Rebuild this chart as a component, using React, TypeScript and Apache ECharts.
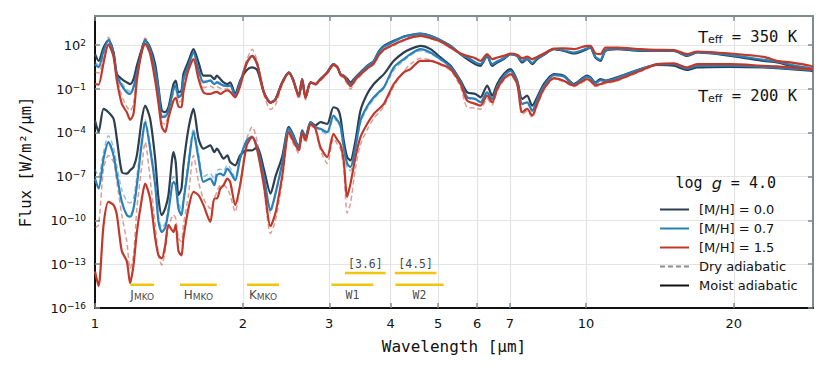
import React, { useEffect, useRef } from "react";
import * as echarts from "echarts";

// Wavelength grid (µm) and log10(flux [W/m²/µm])
const wavelength = [
  1.00, 1.017, 1.041, 1.065, 1.091, 1.108, 1.134, 1.161, 1.179, 1.198,
  1.217, 1.246, 1.265, 1.295, 1.326, 1.347, 1.368, 1.39, 1.411, 1.445,
  1.46, 1.479, 1.50, 1.514, 1.55, 1.587, 1.625, 1.663, 1.717, 1.75,
  1.771, 1.80, 1.827, 1.86, 1.885, 1.93, 1.975, 2.038, 2.09, 2.14,
  2.208, 2.278, 2.331, 2.405, 2.482, 2.53, 2.601, 2.642, 2.684, 2.748,
  2.81, 2.879, 2.971, 3.06, 3.12, 3.162, 3.21, 3.263, 3.314, 3.393,
  3.473, 3.583, 3.697, 3.79, 3.876, 4.061, 4.256, 4.39, 4.60, 4.824,
  5.055, 5.30, 5.553, 5.728, 5.956, 6.097, 6.291, 6.44, 6.594, 6.803,
  7.019, 7.242, 7.413, 7.589, 7.77, 7.953, 8.206, 8.601, 9.015, 9.445,
  10.05, 10.21, 10.45, 10.70, 10.96, 11.57, 12.91, 13.96, 15.1, 16.08,
  16.84, 19.7, 23.02, 24.51, 26.09, 28.66, 29.0,
];

// Teff = 350 K, moist adiabatic
const t350_mh00 = [
  1.39, 0.93, 1.84, 2.34, 1.50, 0.02, -0.32, -0.55, -0.66, -0.32,
  0.60, 1.75, 2.34, 1.84, 0.70, -0.89, -2.48, -2.59, -2.25, -0.66,
  -0.43, -1.23, -1.11, 0.02, 0.90, 1.73, 0.82, -0.09, -0.09, -0.32,
  -0.09, -0.32, -0.55, -0.66, -0.55, -1.34, -0.43, 0.30, 0.48, 0.30,
  -1.23, -1.91, -1.70, -0.55, 0.14, -0.32, -1.46, -0.32, -1.57, -0.55,
  -0.66, -0.32, 0.14, 0.70, 0.48, 0.02, -0.09, -0.30, -0.55, -0.20,
  0.14, 0.59, 0.93, 1.61, 1.95, 2.30, 2.60, 2.70, 2.79, 2.64,
  2.34, 1.95, 1.39, 1.05, 0.70, 0.59, 1.27, 0.59, 0.82, 1.05,
  1.39, 1.27, 0.82, 1.05, 0.70, 1.05, 1.34, 1.73, 1.61, 1.43,
  1.73, 1.84, 1.16, 0.93, 1.61, 1.73, 1.61, 1.61, 1.61, 1.27,
  1.50, 1.27, 0.93, 0.82, 0.59, 0.36, 0.33,
];
const t350_mh07 = [
  0.70, 0.50, 1.60, 2.34, 1.39, -0.10, -0.77, -1.23, -1.34, -0.89,
  0.10, 1.60, 2.34, 1.70, 0.30, -1.10, -2.93, -2.90, -2.50, -1.00,
  -0.77, -1.57, -1.40, -0.30, 0.60, 1.50, 0.30, -0.55, -0.43, -0.66,
  -0.55, -0.66, -0.77, -0.80, -0.77, -1.46, -0.55, 0.80, 1.27, 0.70,
  -1.23, -1.91, -1.70, -0.55, 0.14, -0.32, -1.46, -0.32, -1.57, -0.55,
  -0.66, -0.32, 0.14, 0.70, 0.48, 0.02, -0.09, -0.40, -0.66, -0.25,
  0.10, 0.55, 0.90, 1.55, 1.90, 2.25, 2.58, 2.68, 2.77, 2.62,
  2.32, 1.95, 1.39, 1.16, 0.82, 0.70, 1.27, 0.70, 0.90, 1.10,
  1.39, 1.27, 0.90, 1.08, 0.78, 1.10, 1.36, 1.74, 1.65, 1.50,
  1.78, 1.86, 1.20, 1.00, 1.65, 1.76, 1.64, 1.63, 1.63, 1.30,
  1.52, 1.32, 1.00, 0.88, 0.66, 0.42, 0.40,
];
const t350_mh15 = [
  -0.66, -0.70, 0.80, 2.05, 1.20, -0.43, -2.02, -2.60, -3.11, -2.70,
  -0.43, 1.60, 2.10, 1.40, -0.43, -2.00, -3.61, -3.95, -3.00, -1.80,
  -1.60, -2.20, -2.25, -1.20, 0.30, 1.05, -0.30, -1.23, -1.34, -1.23,
  -1.20, -1.34, -1.20, -1.10, -1.20, -1.57, -0.80, 0.80, 1.27, 0.70,
  -1.23, -1.95, -1.75, -0.60, 0.10, -0.35, -1.50, -0.35, -1.60, -0.55,
  -0.66, -0.35, 0.10, 0.65, 0.45, -0.02, -0.15, -0.50, -0.80, -0.35,
  0.00, 0.40, 0.75, 1.35, 1.70, 2.05, 2.35, 2.52, 2.64, 2.48,
  2.25, 1.84, 1.43, 1.27, 1.11, 0.93, 1.39, 1.05, 1.16, 1.27,
  1.43, 1.35, 1.11, 1.22, 1.05, 1.20, 1.43, 1.77, 1.79, 1.73,
  1.95, 1.95, 1.45, 1.39, 1.84, 1.84, 1.73, 1.68, 1.66, 1.39,
  1.57, 1.43, 1.20, 0.93, 0.82, 0.59, 0.50,
];
// Teff = 350 K, dry adiabatic
const t350_mh07_dry = [
  0.85, 0.65, 1.75, 2.45, 1.50, 0.05, -0.60, -1.05, -1.15, -0.75,
  0.25, 1.70, 2.42, 1.78, 0.40, -1.00, -2.80, -2.78, -2.40, -0.90,
  -0.65, -1.45, -1.30, -0.20, 0.70, 1.58, 0.40, -0.45, -0.35, -0.58,
  -0.48, -0.58, -0.70, -0.72, -0.70, -1.40, -0.50, 0.85, 1.35, 0.72,
  -1.25, -1.98, -1.75, -0.58, 0.12, -0.35, -1.50, -0.35, -1.60, -0.57,
  -0.68, -0.35, 0.12, 0.68, 0.46, 0.00, -0.12, -0.45, -0.72, -0.30,
  0.06, 0.50, 0.86, 1.50, 1.86, 2.22, 2.55, 2.66, 2.76, 2.61,
  2.31, 1.93, 1.37, 1.13, 0.79, 0.67, 1.25, 0.67, 0.87, 1.07,
  1.37, 1.25, 0.87, 1.05, 0.75, 1.07, 1.34, 1.72, 1.63, 1.48,
  1.76, 1.84, 1.18, 0.98, 1.63, 1.74, 1.62, 1.61, 1.61, 1.28,
  1.50, 1.30, 0.98, 0.86, 0.64, 0.40, 0.38,
];
const t350_mh15_dry = [
  0.16, 0.10, 1.30, 2.55, 1.60, 0.00, -1.50, -2.20, -2.50, -2.00,
  0.20, 1.90, 2.50, 1.80, 0.00, -1.70, -3.30, -3.40, -2.70, -1.30,
  -1.00, -1.90, -1.80, -0.60, 0.70, 1.50, 0.00, -0.90, -0.80, -0.95,
  -0.85, -0.95, -1.00, -1.00, -1.05, -1.55, -0.60, 1.00, 1.73, 0.90,
  -1.40, -2.40, -2.10, -0.75, 0.05, -0.45, -1.70, -0.50, -1.75, -0.65,
  -0.75, -0.45, 0.05, 0.60, 0.40, -0.10, -0.25, -0.65, -1.00, -0.45,
  -0.10, 0.35, 0.70, 1.30, 1.65, 2.00, 2.30, 2.48, 2.62, 2.45,
  2.22, 1.80, 1.38, 1.22, 1.05, 0.88, 1.35, 1.00, 1.12, 1.23,
  1.40, 1.32, 1.05, 1.18, 1.00, 1.16, 1.40, 1.75, 1.77, 1.70,
  1.93, 1.93, 1.42, 1.36, 1.82, 1.82, 1.71, 1.66, 1.64, 1.37,
  1.55, 1.41, 1.18, 0.91, 0.80, 0.57, 0.48,
];

// Teff = 200 K, moist adiabatic
const t200_mh00 = [
  -3.16, -3.95, -2.36, -2.59, -3.04, -4.41, -6.68, -6.80, -6.57, -6.34,
  -5.55, -3.04, -2.14, -3.04, -5.77, -8.50, -9.64, -9.18, -8.27, -5.32,
  -6.00, -8.27, -7.82, -6.23, -3.73, -2.36, -4.41, -5.09, -4.86, -5.32,
  -5.09, -5.43, -5.77, -5.55, -6.00, -6.23, -5.55, -5.20, -5.20, -4.98,
  -6.50, -8.16, -7.00, -5.66, -3.60, -4.10, -4.98, -3.83, -4.30, -3.27,
  -3.50, -3.27, -3.39, -2.25, -2.36, -2.93, -4.52, -5.66, -5.89, -4.52,
  -2.48, -1.34, -0.66, -0.30, 0.02, 0.93, 1.50, 1.73, 1.95, 1.73,
  1.16, 0.59, -0.43, -1.23, -1.34, -1.57, -0.77, -1.46, -0.66, 0.02,
  0.36, -0.43, -1.68, -1.46, -2.14, -1.57, -0.66, 0.02, -0.09, -0.66,
  -0.09, -0.20, -0.55, -0.32, -0.43, -0.20, 0.36, 0.65, 0.59, 0.30,
  0.48, 0.52, 0.48, 0.42, 0.36, 0.25, 0.22,
];
const t200_mh07 = [
  -7.14, -7.82, -5.77, -4.64, -5.55, -6.91, -8.73, -9.64, -9.75, -9.18,
  -7.59, -4.64, -3.27, -5.09, -7.59, -10.10, -10.80, -10.50, -9.41, -7.36,
  -7.59, -9.18, -9.64, -8.73, -6.23, -3.95, -5.77, -7.36, -7.14, -7.59,
  -6.91, -6.80, -6.91, -6.45, -6.68, -7.25, -5.77, -4.52, -4.30, -5.00,
  -7.00, -9.30, -8.16, -6.10, -3.70, -4.20, -5.00, -3.90, -4.40, -3.30,
  -3.60, -3.73, -3.95, -2.82, -3.16, -3.50, -4.98, -6.11, -6.34, -4.98,
  -3.16, -2.20, -1.57, -1.20, -0.89, 0.48, 1.05, 1.39, 1.73, 1.50,
  1.05, 0.50, -0.50, -1.57, -1.68, -1.91, -1.23, -1.68, -0.85, -0.10,
  0.25, -0.50, -2.02, -1.91, -2.48, -1.75, -0.80, -0.05, -0.15, -0.70,
  -0.15, -0.25, -0.60, -0.40, -0.45, -0.25, 0.35, 0.68, 0.70, 0.40,
  0.58, 0.60, 0.52, 0.46, 0.40, 0.30, 0.28,
];
const t200_mh15 = [
  -13.50, -14.50, -10.30, -8.73, -8.95, -9.63, -12.10, -12.80, -14.30, -13.05,
  -10.80, -8.50, -7.48, -8.50, -11.20, -12.40, -12.60, -11.70, -10.30, -10.80,
  -10.30, -12.10, -12.40, -11.20, -9.18, -8.05, -8.27, -8.95, -10.10, -8.50,
  -8.50, -7.82, -7.59, -7.14, -7.36, -8.95, -7.59, -4.86, -4.30, -5.20,
  -7.60, -10.40, -9.50, -7.00, -3.95, -4.50, -5.20, -4.00, -4.50, -3.40,
  -3.70, -4.98, -5.66, -4.07, -4.52, -4.80, -5.89, -8.39, -7.48, -5.66,
  -4.30, -3.40, -2.70, -2.35, -2.02, -0.66, 0.14, 0.36, 0.93, 0.93,
  0.70, 0.36, -0.66, -1.80, -2.02, -2.14, -1.46, -1.91, -1.00, -0.30,
  0.02, -0.66, -2.59, -2.36, -2.82, -2.02, -1.00, -0.25, -0.43, -0.77,
  -0.32, -0.43, -0.75, -0.66, -0.55, -0.39, 0.25, 0.70, 0.75, 0.48,
  0.70, 0.70, 0.59, 0.55, 0.48, 0.36, 0.32,
];
// Teff = 200 K, dry adiabatic
const t200_mh07_dry = [
  -6.50, -7.00, -5.30, -4.20, -5.00, -6.30, -7.90, -8.70, -8.80, -8.50,
  -7.00, -4.30, -3.10, -4.80, -7.20, -9.70, -10.50, -10.20, -9.10, -7.00,
  -7.20, -8.80, -9.20, -8.40, -5.90, -3.70, -5.40, -7.00, -6.80, -7.20,
  -6.60, -6.50, -6.60, -6.20, -6.40, -7.10, -5.70, -4.50, -4.20, -5.00,
  -7.10, -9.50, -8.30, -6.20, -3.75, -4.25, -5.05, -3.95, -4.45, -3.35,
  -3.65, -3.85, -4.10, -2.95, -3.30, -3.65, -5.15, -6.40, -6.60, -5.15,
  -3.30, -2.35, -1.70, -1.30, -0.95, 0.30, 0.95, 1.30, 1.62, 1.42,
  1.00, 0.45, -0.55, -1.62, -1.72, -1.95, -1.27, -1.72, -0.90, -0.14,
  0.22, -0.53, -2.06, -1.95, -2.52, -1.78, -0.83, -0.08, -0.18, -0.72,
  -0.18, -0.28, -0.62, -0.42, -0.48, -0.28, 0.32, 0.66, 0.68, 0.38,
  0.56, 0.58, 0.50, 0.44, 0.38, 0.28, 0.26,
];
const t200_mh15_dry = [
  -10.50, -10.30, -6.45, -5.55, -6.00, -7.36, -9.64, -11.45, -13.30, -12.40,
  -9.18, -6.23, -4.64, -7.14, -10.30, -12.40, -13.05, -12.10, -10.50, -9.63,
  -9.86, -11.20, -11.45, -10.30, -8.27, -5.55, -7.36, -8.50, -9.18, -8.50,
  -8.05, -7.59, -7.59, -7.82, -8.27, -9.41, -7.59, -4.41, -3.60, -4.60,
  -7.80, -10.90, -10.00, -7.40, -4.10, -4.70, -5.40, -4.20, -4.70, -3.50,
  -3.80, -5.20, -6.10, -4.40, -4.80, -5.10, -6.40, -9.50, -8.84, -6.40,
  -4.80, -3.80, -3.00, -2.60, -2.20, -0.80, 0.20, 0.70, 1.10, 1.00,
  0.65, 0.25, -0.85, -2.25, -2.30, -2.40, -1.65, -2.10, -1.15, -0.40,
  -0.05, -0.75, -2.75, -2.50, -2.95, -2.15, -1.10, -0.32, -0.50, -0.85,
  -0.40, -0.50, -0.82, -0.72, -0.62, -0.45, 0.20, 0.66, 0.72, 0.45,
  0.67, 0.67, 0.56, 0.52, 0.45, 0.33, 0.30,
];

const metallicityLabels = ["[M/H] = 0.0", "[M/H] = 0.7", "[M/H] = 1.5"];
const adiabatLabels = ["Dry adiabatic", "Moist adiabatic"];
const xTickValues = [1, 2, 3, 4, 5, 6, 7, 10, 20];
const yTickExponents = [-16, -13, -10, -7, -4, -1, 2];
const xMaxWavelength = 29;

// Photometric filter bands
const filterNames = ["J", "H", "K", "W1", "[3.6]", "W2", "[4.5]"];
const filterStart = [1.18, 1.49, 2.04, 3.03, 3.23, 4.09, 4.08];
const filterEnd = [1.32, 1.77, 2.37, 3.69, 3.91, 5.13, 4.96];
const filterLevel = [-14.4, -14.4, -14.4, -14.4, -13.6, -14.4, -13.6];
const filterLabelAbove = [false, false, false, false, true, false, true];

const C_DARK = "#2c3e50";
const C_BLUE = "#2980b9";
const C_RED = "#c0392b";
const C_DRY_BLUE = "rgba(41,128,185,0.5)";
const C_DRY_RED = "rgba(192,57,43,0.5)";
const C_FRAME = "#7f8c8d";
const C_GOLD = "#f1c40f";
const MONO = "DejaVu Sans Mono";
const SANS = "DejaVu Sans";

const xy = (vals: number[]) => wavelength.map((w, i) => [Math.log10(w), vals[i]]);

function buildOption() {
  const xMax = Math.log10(xMaxWavelength);
  const xCustom = xTickValues.map((v) => Math.log10(v));
  const tickStyle = { color: C_FRAME, width: 1.5 };

  const lineSeries = (name: string, data: number[], color: string, z: number, dashed = false) => ({
    type: "line",
    name,
    data: xy(data),
    symbol: "none",
    showSymbol: false,
    silent: true,
    smooth: 0.25,
    z,
    lineStyle: dashed ? { color, width: 1.5, type: [5, 3] } : { color, width: 2.2 },
    itemStyle: { color },
  });

  const series: any[] = [
    lineSeries("dry-350-0.7", t350_mh07_dry, C_DRY_BLUE, 2, true),
    lineSeries("dry-350-1.5", t350_mh15_dry, C_DRY_RED, 2, true),
    lineSeries("dry-200-0.7", t200_mh07_dry, C_DRY_BLUE, 2, true),
    lineSeries("dry-200-1.5", t200_mh15_dry, C_DRY_RED, 2, true),
    lineSeries(metallicityLabels[0], t350_mh00, C_DARK, 3),
    lineSeries(metallicityLabels[1], t350_mh07, C_BLUE, 4),
    lineSeries(metallicityLabels[2], t350_mh15, C_RED, 5),
    lineSeries(metallicityLabels[0], t200_mh00, C_DARK, 3),
    lineSeries(metallicityLabels[1], t200_mh07, C_BLUE, 4),
    lineSeries(metallicityLabels[2], t200_mh15, C_RED, 5),
    {
      type: "line", name: adiabatLabels[0], data: [], symbol: "none",
      lineStyle: { color: "#8c8c8c", width: 1.5, type: [5, 3] }, itemStyle: { color: "#8c8c8c" },
    },
    {
      type: "line", name: adiabatLabels[1], data: [], symbol: "none",
      lineStyle: { color: "#111111", width: 2 }, itemStyle: { color: "#111111" },
    },
  ];

  filterNames.forEach((n, i) => {
    series.push({
      type: "line",
      name: "filter-" + n,
      data: [
        [Math.log10(filterStart[i]), filterLevel[i]],
        [Math.log10(filterEnd[i]), filterLevel[i]],
      ],
      symbol: "none",
      silent: true,
      z: 6,
      lineStyle: { color: C_GOLD, width: 2.5 },
    });
  });

  series.push({
    type: "scatter",
    name: "filter-labels",
    symbolSize: 0,
    silent: true,
    z: 7,
    data: filterNames.map((n, i) => ({
      name: n,
      value: [(Math.log10(filterStart[i]) + Math.log10(filterEnd[i])) / 2, filterLevel[i]],
      label: { position: filterLabelAbove[i] ? "top" : "bottom", distance: filterLabelAbove[i] ? 2 : 4 },
    })),
    label: {
      show: true,
      color: "#111",
      formatter: (p: any) =>
        p.name.length === 1 ? `{a|${p.name}}{s|MKO}` : `{m|${p.name}}`,
      rich: {
        a: { fontFamily: SANS, fontSize: 12, lineHeight: 13, color: "#111" },
        s: { fontFamily: SANS, fontSize: 9, lineHeight: 6, verticalAlign: "bottom", color: "#111" },
        m: { fontFamily: MONO, fontSize: 11.5, lineHeight: 13, color: "#111" },
      },
    },
  });

  const tRich = {
    t: { fontFamily: SANS, fontSize: 16, lineHeight: 16, fill: "#111", color: "#111" },
    s: { fontFamily: SANS, fontSize: 11, lineHeight: 6, verticalAlign: "bottom", fill: "#111", color: "#111" },
    m: { fontFamily: MONO, fontSize: 15.5, lineHeight: 16, fill: "#111", color: "#111" },
  };
  const gRich = {
    m: { fontFamily: MONO, fontSize: 15, lineHeight: 16, fill: "#111", color: "#111" },
    i: { fontFamily: SANS, fontStyle: "italic", fontSize: 16, lineHeight: 16, fill: "#111", color: "#111" },
  };

  return {
    animation: false,
    grid: { left: 95, right: 17, top: 16, bottom: 68, outerBoundsMode: "none" },
    legend: {
      data: [...metallicityLabels, ...adiabatLabels],
      orient: "vertical",
      left: 654,
      top: 198,
      itemWidth: 29,
      itemHeight: 14,
      itemGap: 6,
      selectedMode: false,
      itemStyle: { opacity: 0 },
      textStyle: { fontFamily: SANS, fontSize: 13, color: "#111", padding: [0, 0, 0, 5] },
    },
    xAxis: [
      {
        type: "value",
        min: 0,
        max: xMax,
        position: "bottom",
        name: "Wavelength [µm]",
        nameLocation: "middle",
        nameGap: 30,
        nameTextStyle: { fontFamily: MONO, fontSize: 16, color: "#111" },
        axisLine: { onZero: false, lineStyle: { color: "#111", width: 2 } },
        axisTick: { inside: true, length: 5, customValues: xCustom, lineStyle: tickStyle },
        axisLabel: {
          customValues: xCustom,
          formatter: (v: number) => String(Math.round(Math.pow(10, v))),
          fontFamily: SANS,
          fontSize: 13,
          color: "#111",
          margin: 9,
        },
        splitLine: { show: true, lineStyle: { color: "#e4e4e4", width: 1.2 } },
      },
      {
        type: "value",
        min: 0,
        max: xMax,
        position: "top",
        axisLine: { onZero: false, lineStyle: { color: C_FRAME, width: 2 } },
        axisTick: { inside: true, length: 5, customValues: xCustom, lineStyle: tickStyle },
        axisLabel: { show: false },
        splitLine: { show: false },
      },
    ],
    yAxis: [
      {
        type: "value",
        min: -16,
        max: 4,
        position: "left",
        name: "Flux [W/m²/µm]",
        nameLocation: "middle",
        nameGap: 61,
        nameRotate: 90,
        nameTextStyle: { fontFamily: MONO, fontSize: 15.5, color: "#111" },
        axisLine: { onZero: false, lineStyle: { color: "#111", width: 2 } },
        axisTick: { inside: true, length: 5, customValues: yTickExponents, lineStyle: tickStyle },
        axisLabel: {
          customValues: yTickExponents,
          margin: 9,
          formatter: (v: number) => {
            const e = Math.round(v);
            return `{b|10}{s|${e < 0 ? "\u2212" + -e : e}}`;
          },
          rich: {
            b: { fontFamily: SANS, fontSize: 13, lineHeight: 14, color: "#111" },
            s: { fontFamily: SANS, fontSize: 9, lineHeight: 8, verticalAlign: "top", color: "#111" },
          },
        },
        splitLine: { show: true, lineStyle: { color: "#e4e4e4", width: 1.2 } },
      },
      {
        type: "value",
        min: -16,
        max: 4,
        position: "right",
        axisLine: { onZero: false, lineStyle: { color: C_FRAME, width: 2 } },
        axisTick: { inside: true, length: 5, customValues: yTickExponents, lineStyle: tickStyle },
        axisLabel: { show: false },
        splitLine: { show: false },
      },
    ],
    graphic: [
      { type: "text", right: 33, top: 29, z: 10, style: { text: "{t|T}{s|eff}{m| = 350 K}", rich: tRich, fill: "#111" } },
      { type: "text", right: 33, top: 88, z: 10, style: { text: "{t|T}{s|eff}{m| = 200 K}", rich: tRich, fill: "#111" } },
      { type: "text", right: 54, top: 175, z: 10, style: { text: "{m|log }{i|g}{m| = 4.0}", rich: gRich, fill: "#111" } },
    ],
    series,
  };
}

export default function App() {
  const ref = useRef<HTMLDivElement>(null);
  useEffect(() => {
    if (!ref.current) return;
    const chart = echarts.init(ref.current, undefined, { renderer: "svg" });
    chart.setOption(buildOption() as any);
    return () => chart.dispose();
  }, []);
  return (
    <div
      ref={ref}
      style={{ position: "absolute", left: 0, top: 0, width: 830, height: 376, background: "#fff" }}
    />
  );
}
